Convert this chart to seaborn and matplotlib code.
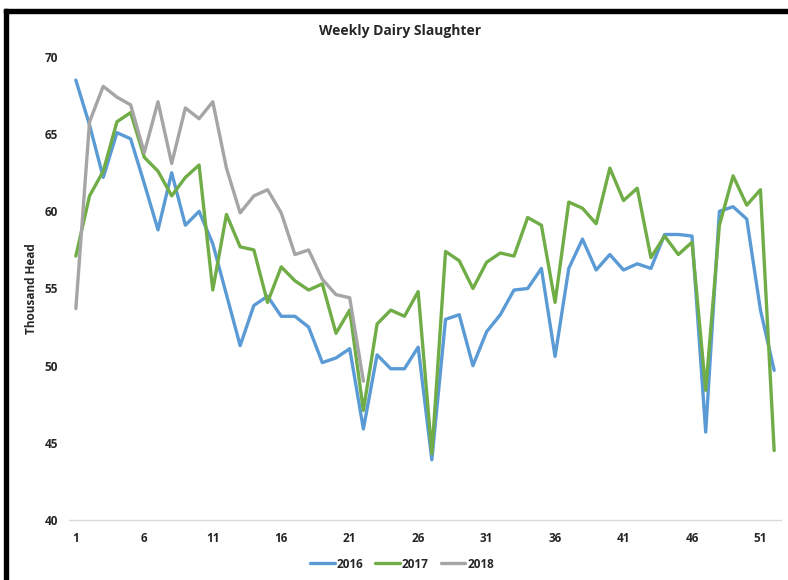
import numpy as np
import pandas as pd
import matplotlib
matplotlib.use("Agg")
import matplotlib.pyplot as plt
import seaborn as sns
from matplotlib.patches import Rectangle

# ---- data (thousand head, by week) ----
weeks_2016 = list(range(1, 53))
vals_2016 = [68.5, 65.6, 62.2, 65.1, 64.7, 61.8, 58.8, 62.5, 59.1, 60.0,
             57.9, 54.6, 51.3, 53.9, 54.5, 53.2, 53.2, 52.5, 50.2, 50.5,
             51.1, 45.9, 50.7, 49.8, 49.8, 51.2, 43.9, 53.0, 53.3, 50.0,
             52.2, 53.3, 54.9, 55.0, 56.3, 50.6, 56.3, 58.2, 56.2, 57.2,
             56.2, 56.6, 56.3, 58.5, 58.5, 58.4, 45.7, 60.0, 60.3, 59.5,
             53.6, 49.7]
weeks_2017 = list(range(1, 53))
vals_2017 = [57.1, 61.0, 62.6, 65.8, 66.4, 63.5, 62.6, 61.0, 62.2, 63.0,
             54.9, 59.8, 57.7, 57.5, 54.1, 56.4, 55.5, 54.9, 55.3, 52.1,
             53.6, 47.1, 52.7, 53.6, 53.2, 54.8, 44.3, 57.4, 56.8, 55.0,
             56.7, 57.3, 57.1, 59.6, 59.1, 54.1, 60.6, 60.2, 59.2, 62.8,
             60.7, 61.5, 57.0, 58.4, 57.2, 58.0, 48.4, 59.1, 62.3, 60.4,
             61.4, 44.5]
weeks_2018 = list(range(1, 23))
vals_2018 = [53.7, 65.8, 68.1, 67.4, 66.9, 63.8, 67.1, 63.1, 66.7, 66.0,
             67.1, 62.8, 59.9, 61.0, 61.4, 59.9, 57.2, 57.5, 55.6, 54.6,
             54.4, 49.0]
years = ["2016", "2017", "2018"]
colors = ["#5B9BD5", "#70AD47", "#A5A5A5"]
x_ticks = list(range(1, 53, 5))
y_ticks = [40, 45, 50, 55, 60, 65, 70]

df = pd.concat([
    pd.DataFrame({"Week": weeks_2016, "Head": vals_2016, "Year": "2016"}),
    pd.DataFrame({"Week": weeks_2017, "Head": vals_2017, "Year": "2017"}),
    pd.DataFrame({"Week": weeks_2018, "Head": vals_2018, "Year": "2018"}),
])

sns.set_theme(style="white")
plt.rcParams["font.family"] = ["Open Sans", "DejaVu Sans"]

fig = plt.figure(figsize=(7.88, 5.8), dpi=100)
ax = fig.add_axes([69 / 788, 1 - 520 / 580, (781 - 69) / 788, (520 - 57) / 580])

sns.lineplot(data=df, x="Week", y="Head", hue="Year", hue_order=years,
             palette=dict(zip(years, colors)), linewidth=2.4, ax=ax,
             legend=True)

ax.set_xlim(0.5, 52.5)
ax.set_ylim(40, 70)
ax.set_xticks(x_ticks)
ax.set_xticklabels([str(t) for t in x_ticks], fontsize=8.5, fontweight="bold")
ax.set_yticks(y_ticks)
ax.set_yticklabels([str(t) for t in y_ticks], fontsize=8.5, fontweight="bold")
ax.tick_params(axis="both", length=0)
ax.tick_params(axis="y", pad=8)
ax.tick_params(axis="x", pad=9)
for s in ["top", "right", "left"]:
    ax.spines[s].set_visible(False)
ax.spines["bottom"].set_color("#D9D9D9")
ax.spines["bottom"].set_linewidth(1.0)
ax.set_xlabel("")
ax.set_ylabel("Thousand Head", fontsize=8.5, fontweight="bold")
ax.yaxis.set_label_coords(-0.044, 0.5)

fig.text(400 / 788, 1 - 31 / 580, "Weekly Dairy Slaughter", ha="center",
         va="center", fontsize=10, fontweight="bold")

handles, labels = ax.get_legend_handles_labels()
ax.get_legend().remove()
leg = fig.legend(handles, labels, loc="center", bbox_to_anchor=(402 / 788, 1 - 564 / 580),
                 ncol=3, frameon=False, fontsize=8.5, handlelength=2.1,
                 handletextpad=0.15, columnspacing=1.0)
for t in leg.get_texts():
    t.set_fontweight("bold")

# screenshot frame (left and top black edges)
fig.patches.append(Rectangle((4 / 788, 0), 4 / 788, 1 - 9 / 580, transform=fig.transFigure,
                             color="black", zorder=10))
fig.patches.append(Rectangle((4 / 788, 1 - 13 / 580), 1, 4 / 580, transform=fig.transFigure,
                             color="black", zorder=10))

fig.savefig("out.png", dpi=100)
